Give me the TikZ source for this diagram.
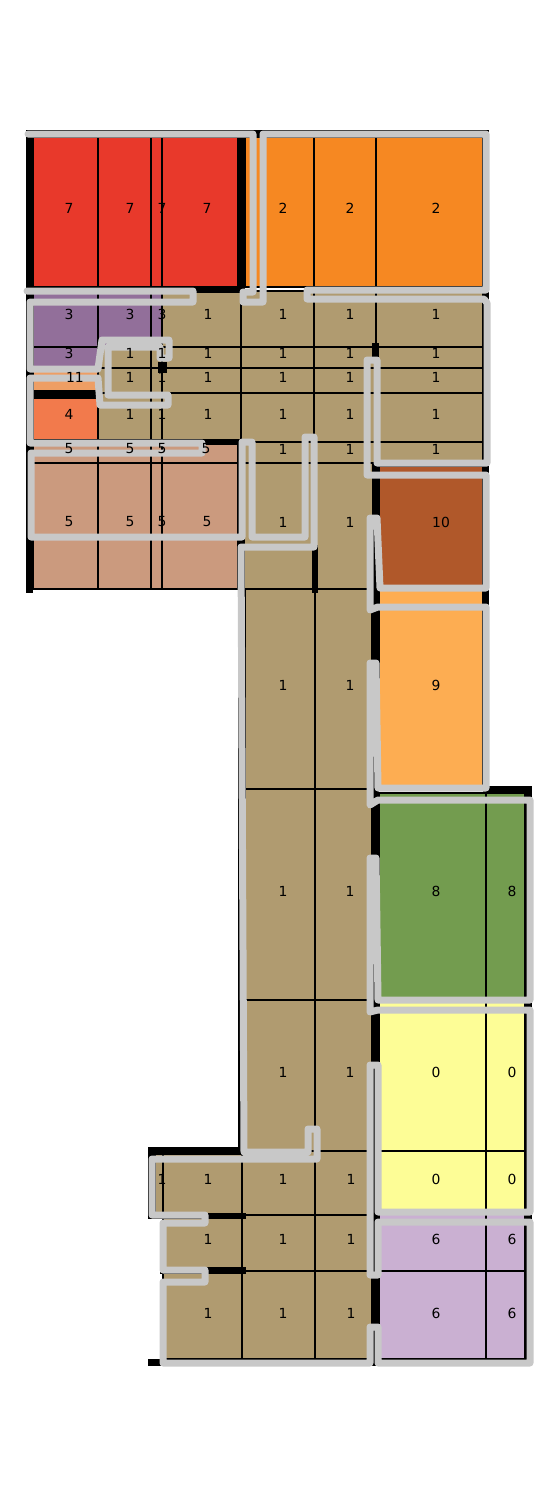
\documentclass[tikz,border=0pt]{standalone}
\usepackage{fontspec}
\setmainfont{DejaVu Sans}
\definecolor{cseven}{RGB}{232,57,43}
\definecolor{ctwo}{RGB}{246,136,34}
\definecolor{cthree}{RGB}{146,111,154}
\definecolor{cone}{RGB}{176,155,112}
\definecolor{celeven}{RGB}{238,158,100}
\definecolor{cfour}{RGB}{242,122,76}
\definecolor{cfive}{RGB}{203,154,126}
\definecolor{cten}{RGB}{176,88,42}
\definecolor{cnine}{RGB}{253,173,82}
\definecolor{ceight}{RGB}{115,156,79}
\definecolor{czero}{RGB}{253,253,150}
\definecolor{csix}{RGB}{202,176,210}
\definecolor{routegrey}{RGB}{200,200,200}
\begin{document}
\begin{tikzpicture}[x=1pt,y=-1pt,
  cell/.style={draw=black,line width=1.1pt},
  wall/.style={fill=black},
  route/.style={draw=routegrey,line width=7pt,line join=round,line cap=round},
  lab/.style={font=\fontsize{13.9}{16}\selectfont,inner sep=0pt,text=black}]
\useasboundingbox (0,0) rectangle (558,1497);
% cells
\foreach \c/\a/\b/\cc/\d in {
 cseven/33/137/98/287, cseven/98/137/151/287, cseven/151/137/162/287, cseven/162/137/238/287,
 ctwo/245/137/314/287, ctwo/314/137/376/287, ctwo/376/137/483/287,
 cthree/33/291/98/347, cthree/98/291/151/347, cthree/151/291/162/347, cthree/33/347/98/368,
 cone/162/291/241/347, cone/241/291/314/347, cone/314/291/376/347, cone/376/291/483/347,
 cone/98/347/151/368, cone/151/347/162/368, cone/162/347/241/368, cone/241/347/314/368, cone/314/347/376/368, cone/376/347/483/368,
 cone/98/368/151/393, cone/151/368/162/393, cone/162/368/241/393, cone/241/368/314/393, cone/314/368/376/393, cone/376/368/483/393,
 cone/98/393/151/442, cone/151/393/162/442, cone/162/393/241/442, cone/241/393/314/442, cone/314/393/376/442, cone/376/393/483/442,
 cone/241/442/314/463, cone/314/442/376/463, cone/376/442/483/463,
 cone/241/463/314/589, cone/314/463/376/589, cone/376/463/483/589,
 cone/245/589/315/789, cone/315/589/372/789, cone/245/789/315/1000, cone/315/789/372/1000, cone/245/1000/315/1151, cone/315/1000/372/1151,
 cone/155/1154/163/1215, cone/163/1154/242/1215, cone/242/1151/315/1215, cone/315/1151/372/1215,
 cone/163/1215/242/1271, cone/242/1215/315/1271, cone/315/1215/372/1271,
 cone/163/1271/242/1359, cone/242/1271/315/1359, cone/315/1271/372/1359,
 celeven/33/368/98/391, cfour/33/398/98/440,
 cfive/33/445/98/463, cfive/98/442/151/463, cfive/151/442/162/463, cfive/162/442/238/463,
 cfive/33/463/98/589, cfive/98/463/151/589, cfive/151/463/162/589, cfive/162/463/238/589,
 cten/379/466/483/587, cnine/379/589/483/787,
 ceight/379/793/486/998, ceight/486/793/525/998,
 czero/379/998/486/1151, czero/486/998/525/1151, czero/379/1151/486/1213, czero/486/1151/525/1213,
 csix/379/1213/486/1271, csix/486/1213/525/1271, csix/379/1271/486/1359, csix/486/1271/525/1359}
 {\path[cell,fill=\c] (\a,\b) rectangle (\cc,\d);}
% walls
\foreach \a/\b/\cc/\d in {
 26/130/489/137, 26/130/33/593, 238/130/245/293, 26/287/245/293, 483/130/489/793,
 372/343/379/357, 158/362/167/373, 33/391/98/398, 26/439/245/445, 238/439/245/1154,
 312/545/318/593, 372/463/379/1366, 483/786/532/793, 525/786/532/1366,
 148/1147/245/1154, 148/1147/155/1219, 148/1213/246/1219, 160/1267/246/1274, 148/1359/532/1366}
 {\path[wall] (\a,\b) rectangle (\cc,\d);}
% route
\draw[route] (28,134) -- (253,134) -- (253,292) -- (243,292) -- (243,302) -- (263,302) -- (263,134)
 -- (486,134) -- (486,290) -- (307,290) -- (307,299) -- (484,299) -- (487,303) -- (487,463)
 -- (377,463) -- (377,360) -- (367,360) -- (367,475) -- (486,475) -- (486,588) -- (380,588)
 -- (377,518) -- (370,518) -- (370,610) -- (378,607) -- (486,607) -- (486,788) -- (378,788)
 -- (376,663) -- (370,663) -- (370,805) -- (378,800) -- (530,800) -- (530,1000) -- (378,1000)
 -- (376,858) -- (370,858) -- (370,1012) -- (378,1010) -- (530,1010) -- (530,1212) -- (378,1212)
 -- (378,1065) -- (370,1065) -- (370,1275) -- (378,1275) -- (378,1222) -- (530,1222) -- (530,1363)
 -- (378,1363) -- (378,1327) -- (370,1327) -- (370,1363) -- (163,1363) -- (163,1282) -- (205,1282)
 -- (205,1270) -- (163,1270) -- (163,1223) -- (205,1223) -- (205,1215) -- (152,1215) -- (152,1159)
 -- (317,1159) -- (317,1129) -- (308,1129) -- (308,1152) -- (244,1152) -- (241,547) -- (314,547)
 -- (314,437) -- (305,437) -- (305,537) -- (252,537) -- (252,442) -- (242,442) -- (242,537)
 -- (31,537) -- (31,453) -- (202,453) -- (202,443) -- (30,443) -- (30,378) -- (98,378)
 -- (100,405) -- (168,405) -- (168,395) -- (108,395) -- (108,347) -- (160,347) -- (160,358)
 -- (169,358) -- (169,340) -- (102,340) -- (98,369) -- (30,369) -- (30,302) -- (193,302)
 -- (193,291) -- (27,291);
% labels
\foreach \t/\px/\py [count=\k] in {
 7/69/208, 7/130/208, 7/162/208, 7/207/208, 2/283/208, 2/350/208, 2/436/208,
 3/69/314, 3/130/314, 3/162/314, 1/208/314, 1/283/314, 1/350/314, 1/436/314,
 3/69/353, 1/130/353, 1/162/353, 1/208/353, 1/283/353, 1/350/353, 1/436/353,
 11/75/377, 1/130/377, 1/162/377, 1/208/377, 1/283/377, 1/350/377, 1/436/377,
 4/69/414, 1/130/414, 1/162/414, 1/208/414, 1/283/414, 1/350/414, 1/436/414,
 5/69/449, 5/130/449, 5/162/449, 5/206/449, 1/283/449, 1/350/449, 1/436/449,
 5/69/522, 5/130/522, 5/162/522, 5/207/522, 1/283/522, 1/350/522, 10/441/522,
 1/283/685, 1/350/685, 9/436/685,
 1/283/891, 1/350/891, 8/436/891, 8/512/891,
 1/283/1072, 1/350/1072, 0/436/1072, 0/512/1072,
 1/162/1179, 1/208/1179, 1/283/1179, 1/351/1179, 0/436/1179, 0/512/1179,
 1/208/1239, 1/283/1239, 1/351/1239, 6/436/1239, 6/512/1239,
 1/208/1313, 1/283/1313, 1/351/1313, 6/436/1313, 6/512/1313}
 {\node[lab] (lab\k) at (\px,\py) {\t};}
\end{tikzpicture}
\end{document}
